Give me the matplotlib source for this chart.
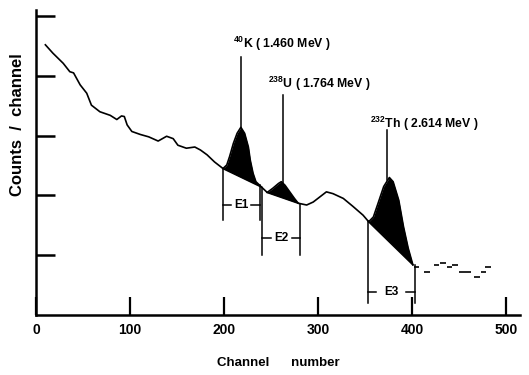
import numpy as np
import matplotlib
matplotlib.use("Agg")
import matplotlib.pyplot as plt

plt.rcParams["font.family"] = "Liberation Sans"
plt.rcParams["font.weight"] = "bold"
plt.rcParams["mathtext.fontset"] = "custom"
plt.rcParams["mathtext.rm"] = "Liberation Sans:bold"
plt.rcParams["mathtext.bf"] = "Liberation Sans:bold"
plt.rcParams["mathtext.default"] = "rm"

# spectrum (channel, counts in tick units)
channels = [10, 18, 29, 36, 40, 47, 54, 59, 68, 79, 86, 91, 94, 97, 102, 111,
            120, 130, 139, 146, 151, 160, 169, 175, 182, 190, 199, 203, 206,
            210, 214, 218, 222, 226, 228, 231, 234, 238, 242, 246, 252, 258,
            261, 265, 270, 275, 279, 288, 295, 309, 316, 327, 337, 348, 354,
            359, 364, 370, 376, 380, 386, 391, 396, 401]
counts = [4.52, 4.38, 4.21, 4.07, 4.05, 3.85, 3.71, 3.51, 3.40, 3.34, 3.27,
          3.33, 3.32, 3.18, 3.07, 3.02, 2.98, 2.91, 2.99, 2.95, 2.84, 2.79,
          2.81, 2.76, 2.68, 2.56, 2.45, 2.51, 2.65, 2.87, 3.04, 3.14, 3.04,
          2.81, 2.59, 2.37, 2.23, 2.17, 2.11, 2.05, 2.12, 2.20, 2.23, 2.17,
          2.06, 1.95, 1.87, 1.84, 1.89, 2.06, 2.03, 1.95, 1.82, 1.67, 1.56,
          1.64, 1.87, 2.15, 2.30, 2.23, 1.92, 1.48, 1.12, 0.84]

# scattered low counts past the Th edge
noise_ch = [405, 416, 426, 433, 440, 446, 453, 460, 469, 476, 481]
noise_y = [0.81, 0.72, 0.84, 0.87, 0.81, 0.84, 0.72, 0.72, 0.64, 0.72, 0.81]

# peaks: start channel, end channel, label channel, label text top
peak_start = [199, 246, 354]
peak_end = [240, 279, 401]
peak_ch = [218.5, 263, 374]
peak_line_top = [4.31, 3.68, 3.09]
peak_labels = [r"$^{40}$K ( 1.460 MeV )", r"$^{238}$U ( 1.764 MeV )",
               r"$^{232}$Th ( 2.614 MeV )"]
label_x = [209.5, 247, 355]
label_y = [4.46, 3.80, 3.13]

# energy windows
win_names = ["E1", "E2", "E3"]
win_lo = [199, 241, 353]
win_hi = [238, 281, 403]
win_bottom = [1.59, 1.0, 0.2]
win_text_y = [1.84, 1.29, 0.385]

x = np.array(channels, dtype=float)
y = np.array(counts)

fig = plt.figure(figsize=(5.29, 3.75), dpi=100)
ax = fig.add_axes([0.068, 0.16, 0.915, 0.813])

ax.plot(x, y, color="black", lw=1.2)
ax.hlines(noise_y, np.array(noise_ch) - 3, np.array(noise_ch) + 3,
          color="black", lw=1.2)

for s, e in zip(peak_start, peak_end):
    ys, ye = np.interp([s, e], x, y)
    m = (x >= s) & (x <= e)
    xs = np.concatenate([[s], x[m], [e]])
    yc = np.interp(xs, x, y)
    yb = np.interp(xs, [s, e], [ys, ye])
    ax.fill_between(xs, yb, yc, color="black", lw=0)
    ax.plot([s, e], [ys, ye], color="black", lw=1.2)

for pc, top, txt, lx, ly in zip(peak_ch, peak_line_top, peak_labels,
                                 label_x, label_y):
    ax.plot([pc, pc], [np.interp(pc, x, y), top], color="black", lw=1.1)
    ax.text(lx, ly, txt, fontsize=8.8, fontweight="bold", ha="left",
            va="baseline")

dash = 9
for name, lo, hi, bot, ty in zip(win_names, win_lo, win_hi, win_bottom,
                                 win_text_y):
    for c in (lo, hi):
        ax.plot([c, c], [np.interp(c, x, y), bot], color="black", lw=1.1)
    ax.plot([lo, lo + dash], [ty, ty], color="black", lw=1.1)
    ax.plot([hi - dash, hi], [ty, ty], color="black", lw=1.1)
    ax.text((lo + hi) / 2, ty, name, fontsize=8.5, fontweight="bold",
            ha="center", va="center")

ax.set_xlim(0, 515)
ax.set_ylim(0, 5.1)
ax.set_xticks([0, 100, 200, 300, 400, 500])
ax.set_yticks([1, 2, 3, 4, 5])
ax.set_yticklabels([])
ax.tick_params(axis="x", direction="in", length=13, width=1.6, pad=6,
               labelsize=10)
ax.tick_params(axis="y", direction="in", length=14, width=1.8)
for sp in ("top", "right"):
    ax.spines[sp].set_visible(False)
for sp in ("left", "bottom"):
    ax.spines[sp].set_linewidth(1.8)

fig.text(0.526, 0.015, "Channel      number", fontsize=9.5, fontweight="bold",
         ha="center", va="bottom")
fig.text(0.033, 0.667, "Counts  /  channel", fontsize=12, fontweight="bold",
         rotation=90, ha="center", va="center")

fig.savefig("out.png", dpi=100)
